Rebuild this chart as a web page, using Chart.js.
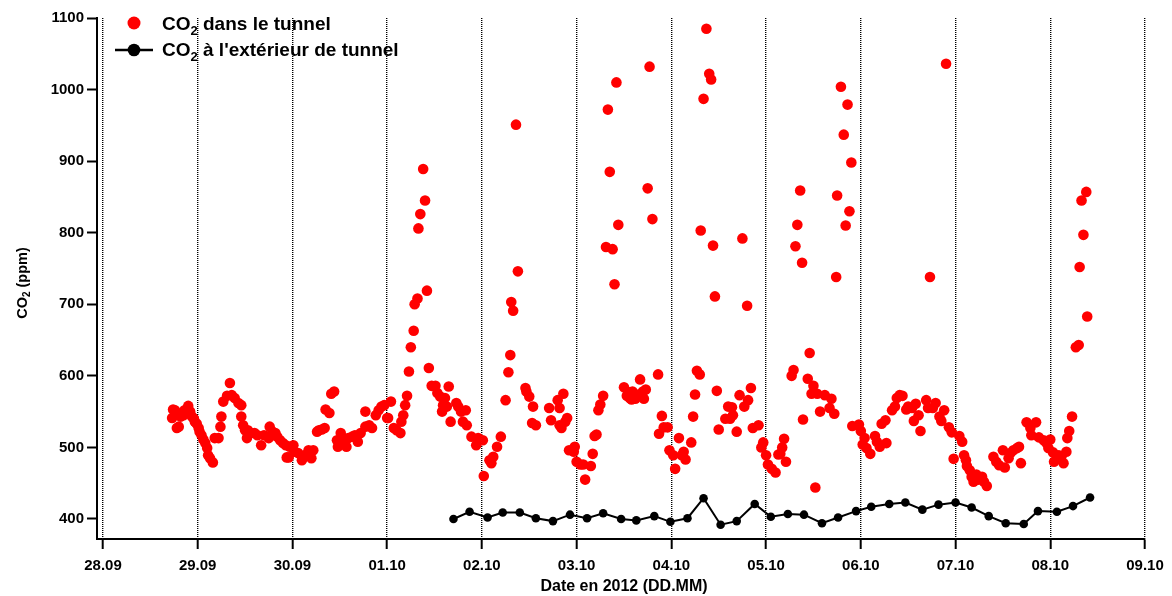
<!DOCTYPE html>
<html>
<head>
<meta charset="utf-8">
<script src="https://cdn.jsdelivr.net/npm/chart.js@4.4.1/dist/chart.umd.min.js"></script>
<style>
  html, body { margin: 0; padding: 0; background: #fff; }
</style>
</head>
<body>
<canvas id="co2" width="1172" height="596"></canvas>
<script>
const FONT = "'Liberation Sans', Arial, sans-serif";

// x axis: days counted from 28.09.2012 00:00
const dayLabels = ["28.09", "29.09", "30.09", "01.10", "02.10", "03.10",
  "04.10", "05.10", "06.10", "07.10", "08.10", "09.10"];
const ppmTicks = [400, 500, 600, 700, 800, 900, 1000, 1100];

// CO2 measured inside the tunnel [day, ppm]
const tunnelPoints = [
  [0.73,541],[0.74,553],[0.76,552],[0.78,527],[0.80,529],[0.82,543],[0.85,545],[0.86,552],
  [0.88,550],[0.90,558],[0.92,550],[0.94,543],[0.96,540],[0.97,536],[0.99,533],[1.01,527],
  [1.02,522],[1.04,517],[1.06,511],[1.08,506],[1.10,499],[1.11,489],[1.13,485],[1.16,479],
  [1.18,513],[1.22,513],[1.24,529],[1.25,543],[1.27,564],[1.31,572],[1.34,590],[1.36,573],
  [1.39,569],[1.43,562],[1.46,559],[1.46,543],[1.48,531],[1.50,524],[1.52,513],[1.53,524],
  [1.56,520],[1.60,520],[1.63,517],[1.67,503],[1.70,517],[1.75,513],[1.76,529],[1.79,522],
  [1.82,520],[1.84,515],[1.87,510],[1.90,506],[1.93,503],[1.94,486],[1.96,486],[1.97,501],
  [2.01,503],[2.02,494],[2.06,492],[2.10,482],[2.13,489],[2.17,496],[2.20,485],[2.22,496],
  [2.26,522],[2.28,524],[2.31,525],[2.34,527],[2.35,553],[2.39,548],[2.41,575],[2.44,578],
  [2.47,510],[2.48,501],[2.51,520],[2.54,510],[2.57,501],[2.59,513],[2.63,515],[2.66,517],
  [2.69,508],[2.72,520],[2.77,550],[2.77,529],[2.81,531],[2.84,527],[2.88,545],[2.91,552],
  [2.94,557],[2.97,559],[3.00,541],
  [3.01,541],[3.04,564],[3.07,527],[3.10,524],[3.14,520],[3.15,536],[3.17,545],[3.19,559],
  [3.21,572],[3.23,606],[3.25,640],[3.28,663],[3.29,700],[3.32,708],[3.33,806],[3.35,826],
  [3.38,889],[3.40,845],[3.42,719],[3.44,611],[3.47,586],[3.51,586],[3.53,576],[3.56,571],
  [3.58,550],[3.59,559],[3.61,569],[3.63,557],[3.65,585],[3.67,536],[3.73,562],[3.75,557],
  [3.78,550],[3.80,536],[3.83,552],[3.84,531],[3.89,515],[3.94,503],[3.96,513],[4.01,510],
  [4.02,460],[4.08,482],[4.10,478],[4.12,487],[4.16,501],[4.20,515],[4.25,566],[4.28,605],
  [4.30,629],[4.31,703],[4.33,691],[4.36,951],[4.38,746],[4.46,583],[4.47,578],[4.50,571],
  [4.53,534],[4.54,557],[4.57,531],[4.71,555],[4.73,538],[4.80,566],[4.82,531],[4.82,555],
  [4.84,527],[4.86,575],[4.88,536],[4.90,541],[4.92,496],[4.97,494],[4.98,501],[5.00,480],
  [5.04,476],[5.07,476],[5.09,455],[5.15,474],[5.17,491],[5.19,516],[5.21,518],[5.23,552],
  [5.25,560],[5.28,572],[5.31,780],[5.33,972],[5.35,885],[5.38,777],[5.40,728],[5.42,1010],
  [5.44,811],[5.50,584],[5.53,572],[5.55,577],[5.56,569],[5.57,577],[5.58,567],[5.59,578],
  [5.62,568],[5.63,574],[5.67,595],[5.70,578],[5.71,568],[5.73,581],[5.75,862],[5.77,1032],
  [5.80,819],[5.86,602],[5.87,519],[5.90,544],[5.92,528],[5.96,528],[5.98,496],[6.02,489],
  [6.04,470],[6.08,513],[6.11,489],[6.13,494],[6.15,483],[6.21,507],[6.23,543],[6.25,574],
  [6.27,607],[6.30,602],[6.31,803],[6.34,987],[6.37,1085],[6.40,1022],[6.42,1014],[6.44,782],
  [6.46,711],[6.48,579],[6.50,525],[6.57,540],[6.60,557],[6.62,540],[6.64,556],[6.65,545],
  [6.69,522],[6.72,573],[6.75,792],[6.77,557],[6.80,698],[6.81,566],[6.84,583],[6.86,527],
  [6.92,531],[6.95,500],[6.97,507],[7.00,489],[7.02,476],[7.06,470],[7.10,465],[7.13,490],
  [7.15,491],[7.17,500],[7.19,512],[7.21,480],[7.27,600],[7.29,608],[7.31,781],[7.33,811],
  [7.36,859],[7.38,758],[7.39,539],[7.44,596],[7.46,632],[7.48,575],[7.50,586],[7.52,444],
  [7.54,575],[7.57,550],[7.62,573],[7.67,555],[7.69,568],[7.72,547],[7.74,738],[7.75,852],
  [7.79,1004],[7.82,937],[7.84,810],[7.86,979],[7.88,830],[7.90,898],[7.91,530],[7.98,532],
  [8.00,523],[8.02,504],[8.04,513],[8.06,499],[8.10,491],[8.15,516],[8.17,508],[8.20,501],
  [8.22,533],[8.26,538],[8.27,506],[8.33,552],[8.36,557],[8.38,569],[8.41,573],[8.44,572],
  [8.48,553],[8.50,557],[8.54,555],[8.56,537],[8.58,561],[8.61,545],[8.63,523],[8.69,566],
  [8.71,555],[8.73,738],[8.76,555],[8.79,562],[8.83,543],[8.85,537],[8.88,552],[8.90,1036],
  [8.93,528],[8.96,521],[8.98,484],[9.04,516],[9.07,508],
  [9.09,489],[9.11,482],[9.12,474],[9.15,468],[9.17,459],[9.19,452],[9.22,462],[9.24,455],
  [9.28,459],[9.30,452],[9.33,446],[9.40,487],[9.43,480],[9.46,475],[9.50,496],[9.52,472],
  [9.56,485],[9.58,492],[9.61,496],[9.65,499],[9.67,501],[9.69,478],[9.75,535],[9.79,527],
  [9.80,517],[9.85,535],[9.88,514],[9.93,510],[9.96,506],[9.98,499],[10.00,511],[10.03,493],
  [10.04,480],[10.09,489],[10.12,488],[10.14,478],[10.17,494],[10.18,513],[10.20,523],[10.23,543],
  [10.27,640],[10.30,643],[10.31,752],[10.33,845],[10.35,797],[10.38,857],[10.39,683]
];

// CO2 measured outside the tunnel [day, ppm]
const outsidePoints = [
  [3.70,400],[3.87,410],[4.06,402],[4.22,409],[4.40,409],[4.57,401],[4.75,397],[4.93,406],
  [5.11,401],[5.28,408],[5.47,400],[5.63,398],[5.82,404],[5.99,396],[6.17,401],[6.34,429],
  [6.52,392],[6.69,397],[6.88,421],[7.05,403],[7.23,407],[7.40,406],[7.59,394],[7.76,402],
  [7.95,411],[8.11,417],[8.30,421],[8.47,423],[8.65,413],[8.82,420],[9.00,423],[9.17,416],
  [9.35,404],[9.53,394],[9.72,393],[9.87,411],[10.07,410],[10.24,418],[10.42,430]
];

const legendInside = " dans le tunnel";
const legendOutside = " à l'extérieur de tunnel";
const xTitle = "Date en 2012 (DD.MM)";
const yTitleTail = " (ppm)";

// "CO" + subscript "2" + rest, y is the baseline
function co2Text(ctx, x, y, size, tail, centered) {
  const big = `bold ${size}px ${FONT}`;
  const small = `bold ${Math.round(size * 0.66)}px ${FONT}`;
  ctx.font = big;
  const wCO = ctx.measureText("CO").width;
  const wTail = ctx.measureText(tail).width;
  ctx.font = small;
  const w2 = ctx.measureText("2").width;
  const x0 = centered ? x - (wCO + w2 + wTail) / 2 : x;
  ctx.textAlign = "left";
  ctx.textBaseline = "alphabetic";
  ctx.font = big;
  ctx.fillText("CO", x0, y);
  ctx.font = small;
  ctx.fillText("2", x0 + wCO, y + size * 0.24);
  ctx.font = big;
  ctx.fillText(tail, x0 + wCO + w2, y);
}

const textPlugin = {
  id: "co2Text",
  afterDraw(chart) {
    const ctx = chart.ctx;
    ctx.save();

    // legend
    ctx.fillStyle = "#ff0000";
    ctx.beginPath();
    ctx.arc(134, 23, 6.5, 0, Math.PI * 2);
    ctx.fill();
    ctx.strokeStyle = "#000";
    ctx.lineWidth = 2.5;
    ctx.beginPath();
    ctx.moveTo(115, 50);
    ctx.lineTo(153, 50);
    ctx.stroke();
    ctx.fillStyle = "#000";
    ctx.beginPath();
    ctx.arc(134, 50, 6.3, 0, Math.PI * 2);
    ctx.fill();
    co2Text(ctx, 162, 30, 19, legendInside, false);
    co2Text(ctx, 162, 56, 19, legendOutside, false);

    // axis titles
    ctx.font = `bold 16px ${FONT}`;
    ctx.textAlign = "center";
    ctx.textBaseline = "alphabetic";
    ctx.fillText(xTitle, 624, 591);

    ctx.translate(27, 283);
    ctx.rotate(-Math.PI / 2);
    co2Text(ctx, 0, 0, 14.5, yTitleTail, true);
    ctx.restore();
  }
};

const tickFont = { family: FONT, size: 15, weight: "bold" };

new Chart(document.getElementById("co2"), {
  type: "scatter",
  data: {
    datasets: [
      {
        data: outsidePoints.map(([x, y]) => ({ x, y })),
        showLine: true,
        borderColor: "#000",
        borderWidth: 2,
        backgroundColor: "#000",
        pointRadius: 4.3,
        pointBorderWidth: 0,
        tension: 0,
        order: 1,
      },
      {
        data: tunnelPoints.map(([x, y]) => ({ x, y })),
        backgroundColor: "#ff0000",
        pointRadius: 5.3,
        pointBorderWidth: 0,
        order: 2,
      },
    ],
  },
  options: {
    responsive: false,
    animation: false,
    layout: { padding: { top: 18, right: 27, left: 0, bottom: 0 } },
    plugins: { legend: { display: false }, tooltip: { enabled: false } },
    scales: {
      x: {
        type: "linear",
        min: -0.063,
        max: 11,
        afterBuildTicks: (s) => { s.ticks = dayLabels.map((_, i) => ({ value: i })); },
        afterFit: (s) => { s.height = 57; },
        ticks: {
          callback: (v) => dayLabels[v],
          color: "#000",
          font: tickFont,
          padding: 8,
          maxRotation: 0,
          autoSkip: false,
        },
        grid: { color: "#000", lineWidth: 1.4, tickColor: "#000", tickWidth: 2, tickLength: 10 },
        border: { color: "#000", width: 2, dash: [1, 1] },
      },
      y: {
        min: 372,
        max: 1100,
        afterBuildTicks: (s) => { s.ticks = ppmTicks.map((v) => ({ value: v })); },
        afterFit: (s) => { s.width = 97; },
        ticks: { callback: (v) => String(v), color: "#000", font: tickFont, padding: 3 },
        grid: { drawOnChartArea: false, tickColor: "#000", tickWidth: 2, tickLength: 10 },
        border: { color: "#000", width: 2 },
      },
    },
  },
  plugins: [textPlugin],
});
</script>
</body>
</html>
